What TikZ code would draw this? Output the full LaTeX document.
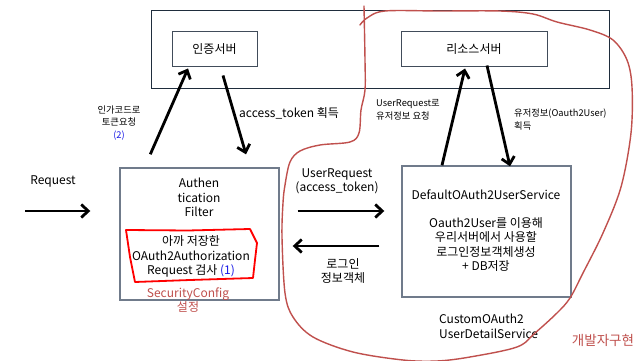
\documentclass[tikz,border=0pt]{standalone}
\usepackage{fontspec}
\setmainfont{Noto Sans CJK KR}
\usetikzlibrary{arrows.meta}
\definecolor{annot}{RGB}{192,80,77}
\definecolor{navy}{RGB}{31,45,61}
\definecolor{slate}{RGB}{112,123,139}
\definecolor{numblue}{RGB}{25,25,230}
\begin{document}
\begin{tikzpicture}[x=1pt,y=-1pt,
  outerbox/.style={draw=navy, line width=0.9pt, inner sep=0pt},
  srvbox/.style={draw=navy!85!white, line width=1pt, inner sep=0pt},
  compbox/.style={draw=slate, line width=1.4pt, inner sep=0pt},
  arr/.style={line width=2.8pt, -{Straight Barb[length=7pt,width=13pt]}},
  txt/.style={font=\fontsize{12}{14.5}\selectfont, align=center, inner sep=0pt},
  smalltxt/.style={font=\fontsize{9.3}{12.5}\selectfont, align=left, inner sep=0pt},
  midtxt/.style={font=\fontsize{12}{14}\selectfont, align=center, inner sep=0pt},
  freehand/.style={draw=annot, line width=1.4pt, line join=round, line cap=round},
  redmark/.style={draw=red, line width=1.8pt, line join=round}
]
\useasboundingbox (0,0) rectangle (641,361);
\fill[white] (0,0) rectangle (641,361);

% boxes
\node[outerbox, minimum width=458pt, minimum height=78pt] (outer) at (380,49) {};
\node[srvbox, minimum width=85pt, minimum height=35pt] (auth) at (214.5,49.5) {};
\node[txt] (authlbl) at (auth.center) {인증서버};
\node[srvbox, minimum width=146pt, minimum height=35pt] (res) at (474,49.5) {};
\node[txt] (reslbl) at (res.center) {리소스서버};
\node[compbox, minimum width=159pt, minimum height=132pt] (filter) at (199.5,234) {};
\node[compbox, minimum width=169pt, minimum height=131pt] (dflt) at (486.5,231.5) {};

% texts in boxes
\node[txt] (filtlbl) at (199,197.5) {Authen\\tication\\Filter};
\node[txt] (chk) at (191,256.5) {아까 저장한\\OAuth2Authorization\\Request 검사 {\color{numblue}(1)}};
\node[txt, text=annot] (sec) at (188,300) {SecurityConfig\\설정};
\node[txt] (dfltname) at (486,195) {DefaultOAuth2UserService};
\node[txt] (dfltdesc) at (486,244.5) {Oauth2User를 이용해\\우리서버에서 사용할\\로그인정보객체생성\\+ DB저장};
\node[txt, align=left, anchor=west] (custom) at (439,326.5) {CustomOAuth2\\UserDetailService};
\node[font=\fontsize{13.5}{15}\selectfont, inner sep=0pt, text=annot] (dev) at (603,340) {개발자구현};

% labels
\node[midtxt] (reqlbl) at (53,181) {Request};
\node[midtxt, anchor=west] (atk) at (239,113) {access\_token 획득};
\node[smalltxt, align=center] (code) at (119,123) {인가코드로\\토큰요청\\{\color{numblue}(2)}};
\node[smalltxt, anchor=west] (urq) at (376,110) {UserRequest로\\유저정보 요청};
\node[smalltxt, anchor=west] (uinfo) at (514,119.5) {유저정보(Oauth2User)\\획득};
\node[midtxt] (ur2) at (337,181) {UserRequest\\(access\_token)};
\node[midtxt] (login) at (343,271.5) {로그인\\정보객체};

% arrows
\coordinate (rq) at (25,211);
\draw[arr] (rq) -- ([xshift=-29pt,yshift=23pt]filter.west);
\draw[arr] ([xshift=31pt,yshift=13pt]filter.north west) -- ([xshift=-26.5pt,yshift=-1pt]auth.south);
\draw[arr] ([xshift=8.5pt,yshift=-8pt]auth.south) -- ([xshift=46.5pt,yshift=13pt]filter.north);
\draw[arr] ([xshift=18pt,yshift=23pt]filter.east) -- ([xshift=-17pt,yshift=20.5pt]dflt.west);
\draw[arr] ([xshift=-22pt,yshift=-14.5pt]dflt.west) -- ([xshift=13pt,yshift=-12pt]filter.east);
\draw[arr] ([xshift=-44.5pt]dflt.north) -- ([xshift=-9pt,yshift=-1pt]res.south);
\draw[arr] ([xshift=13pt,yshift=2pt]res.south) -- ([xshift=23.5pt,yshift=-1pt]dflt.north);

% red hand-drawn mark round the check text
\draw[redmark] (126,230) -- (188,230.5) -- (250,229) -- (257,243) -- (255,260) -- (253,278) -- (190,280) -- (135,282) -- (130,257) -- cycle;

% freehand boundary of developer implementation
\draw[freehand] plot[smooth, tension=0.55] coordinates {
 (364,6) (365,60) (365,90) (361,110) (359,133) (350,142) (320,145) (300,151) (290,162)
 (285,185) (283,203) (282,237) (285,293) (293,317) (313,337) (353,352) (403,360) (437,361)
 (470,357) (517,347) (535,333) (557,313) (570,298) (583,273) (603,233) (621,187) (631,133)
 (632,87) (627,60) (613,40) (590,30) (557,22) (533,14) (500,11) (440,11) (385,11) (367,18) (360,25)};
\end{tikzpicture}
\end{document}
